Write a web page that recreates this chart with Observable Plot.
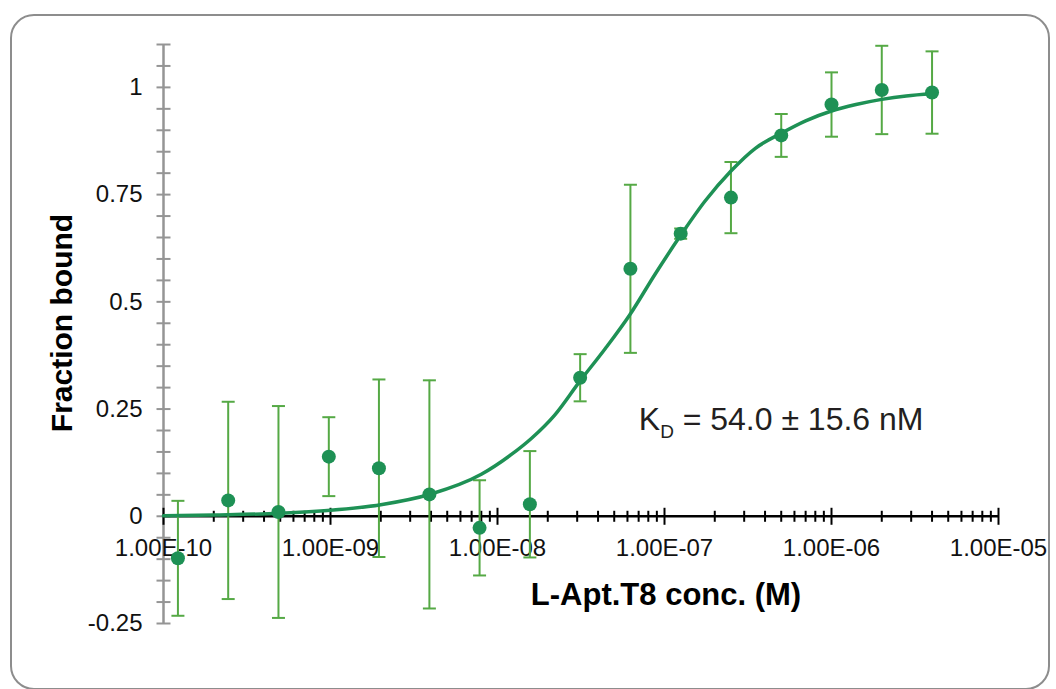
<!DOCTYPE html>
<html>
<head>
<meta charset="utf-8">
<script src="https://cdn.jsdelivr.net/npm/d3@7"></script>
<script src="https://cdn.jsdelivr.net/npm/@observablehq/plot@0.6"></script>
<style>
  html, body { margin: 0; padding: 0; background: #fff; }
  #wrap { position: relative; width: 1056px; height: 689px; overflow: hidden; }
  #frame { position: absolute; left: 10px; top: 14px; width: 1040px; height: 676px;
           border: 2px solid #8d8d8d; border-radius: 24px; box-sizing: border-box; }
  #chart { position: absolute; left: 0; top: 0; }
</style>
</head>
<body>
<div id="wrap"><div id="frame"></div><div id="chart"></div></div>
<script>
// ---- data ----
const conc = [1.22e-10, 2.44e-10, 4.88e-10, 9.77e-10, 1.95e-9, 3.91e-9, 7.81e-9, 1.5625e-8,
              3.125e-8, 6.25e-8, 1.25e-7, 2.5e-7, 5e-7, 1e-6, 2e-6, 4e-6];
const fractionBound = [-0.098, 0.037, 0.010, 0.139, 0.112, 0.051, -0.027, 0.028,
                       0.323, 0.577, 0.659, 0.743, 0.888, 0.960, 0.994, 0.988];
const errorBar = [0.134, 0.230, 0.247, 0.092, 0.207, 0.266, 0.111, 0.124,
                  0.055, 0.196, 0.012, 0.083, 0.050, 0.075, 0.103, 0.096];

// fitted curve
const fitConc = [1e-10, 2e-10, 5e-10, 1e-9, 2e-9, 4e-9, 8e-9, 1.2e-8, 1.6e-8, 2.2e-8, 3.1e-8,
                 4.4e-8, 6.2e-8, 8.8e-8, 1.25e-7, 1.75e-7, 2.5e-7, 3.5e-7, 5e-7, 7e-7, 1e-6,
                 1.4e-6, 2e-6, 2.8e-6, 4e-6];
const fitValue = [0.001, 0.003, 0.007, 0.014, 0.027, 0.052, 0.098, 0.143, 0.182, 0.236, 0.314,
                  0.390, 0.470, 0.565, 0.655, 0.735, 0.805, 0.858, 0.893, 0.922, 0.945,
                  0.960, 0.972, 0.980, 0.985];

const xTickValues = [1e-10, 1e-9, 1e-8, 1e-7, 1e-6, 1e-5];
const xTickLabels = ["1.00E-10", "1.00E-09", "1.00E-08", "1.00E-07", "1.00E-06", "1.00E-05"];
const yTickValues = [-0.25, 0, 0.25, 0.5, 0.75, 1];
const yTickLabels = ["-0.25", "0", "0.25", "0.5", "0.75", "1"];
const yMinorStep = 0.05;
const yTop = 1.1;

const xTitle = "L-Apt.T8 conc. (M)";
const yTitle = "Fraction bound";
const kdLabel = [{x: 7e-8, y: 0.2005, main: "K", sub: "D", rest: "= 54.0 \u00b1 15.6 nM"}];

// ---- derived tables ----
const rows = conc.map((c, i) => ({c, v: fractionBound[i], lo: fractionBound[i] - errorBar[i], hi: fractionBound[i] + errorBar[i]}));
const fit = fitConc.map((c, i) => ({c, v: fitValue[i]}));
const yMinor = d3.range(-0.25, yTop + 1e-9, yMinorStep);
const xMinor = [];
for (let e = -10; e < -5; e++) for (let k = 2; k <= 9; k++) xMinor.push(k * Math.pow(10, e));

const hline = {draw(ctx, size) { const r = Math.sqrt(size / Math.PI); ctx.moveTo(-r, 0); ctx.lineTo(r, 0); }};
const vline = {draw(ctx, size) { const r = Math.sqrt(size / Math.PI); ctx.moveTo(0, -r); ctx.lineTo(0, r); }};

const gray = "#959595";
const dotColor = "#1e9155";
const errColor = "#55a945";
const font = "'Liberation Sans', Arial, sans-serif";

const chart = Plot.plot({
  width: 1056, height: 689,
  marginLeft: 163, marginRight: 58, marginTop: 44, marginBottom: 66,
  style: {background: "transparent", fontFamily: font},
  x: {type: "log", domain: [1e-10, 1e-5], axis: null},
  y: {domain: [-0.25, yTop], axis: null},
  marks: [
    // y axis
    Plot.ruleX([1e-10], {y1: -0.25, y2: yTop, stroke: gray, strokeWidth: 2.5}),
    Plot.dot(yMinor, {x: () => 1e-10, y: d => d, symbol: hline, r: 7, stroke: gray, strokeWidth: 2, fill: "none"}),
    Plot.text(yTickValues, {x: () => 1e-10, y: d => d, text: (d, i) => yTickLabels[i], textAnchor: "end", dx: -21, fontSize: 24, fill: "#111"}),
    // x axis at y = 0
    Plot.ruleY([0], {x1: 1e-10, x2: 1e-5, stroke: "#000", strokeWidth: 2.5}),
    Plot.dot(xMinor, {x: d => d, y: () => 0, symbol: vline, r: 5.5, stroke: "#000", strokeWidth: 2, fill: "none"}),
    Plot.dot(xTickValues, {x: d => d, y: () => 0, symbol: vline, r: 8.5, stroke: "#000", strokeWidth: 2, fill: "none"}),
    Plot.text(xTickValues, {x: d => d, y: () => 0, text: (d, i) => xTickLabels[i], dy: 32, fontSize: 24, fill: "#111", textAnchor: "middle", style: "letter-spacing: 0.6px"}),
    // error bars
    Plot.ruleX(rows, {x: "c", y1: "lo", y2: "hi", stroke: errColor, strokeWidth: 2}),
    Plot.dot(rows, {x: "c", y: "lo", symbol: hline, r: 6.5, stroke: errColor, strokeWidth: 2, fill: "none"}),
    Plot.dot(rows, {x: "c", y: "hi", symbol: hline, r: 6.5, stroke: errColor, strokeWidth: 2, fill: "none"}),
    // fitted curve
    Plot.line(fit, {x: "c", y: "v", curve: "monotone-x", stroke: dotColor, strokeWidth: 3.5}),
    // points
    Plot.dot(rows, {x: "c", y: "v", r: 7, fill: dotColor, stroke: "none"}),
    // KD annotation
    Plot.text(kdLabel, {x: "x", y: "y", text: "main", textAnchor: "start", lineAnchor: "bottom", fontSize: 32, fill: "#231f20"}),
    Plot.text(kdLabel, {x: "x", y: "y", text: "sub", textAnchor: "start", lineAnchor: "bottom", fontSize: 19, dx: 21.5, dy: 8, fill: "#231f20"}),
    Plot.text(kdLabel, {x: "x", y: "y", text: "rest", textAnchor: "start", lineAnchor: "bottom", fontSize: 32, dx: 44, fill: "#231f20"}),
    // axis titles
    Plot.text([xTitle], {frameAnchor: "bottom", textAnchor: "middle", lineAnchor: "bottom", dx: 85, dy: -19, fontSize: 31, fontWeight: "bold", fill: "#000", style: "letter-spacing: 0.7px"}),
    Plot.text([yTitle], {frameAnchor: "left", textAnchor: "middle", lineAnchor: "middle", rotate: -90, dx: -101, dy: -11, fontSize: 30, fontWeight: "bold", fill: "#000", style: "letter-spacing: 0.6px"})
  ]
});
document.getElementById("chart").appendChild(chart);
</script>
</body>
</html>
